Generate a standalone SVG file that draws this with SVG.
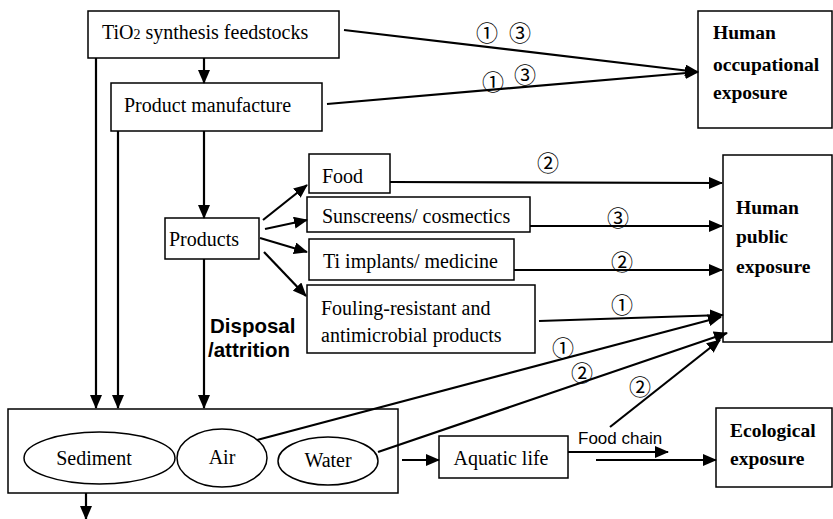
<svg xmlns="http://www.w3.org/2000/svg" width="833" height="519" viewBox="0 0 833 519">
<defs>
<marker id="ah" markerUnits="userSpaceOnUse" markerWidth="14" markerHeight="12" refX="13" refY="6" orient="auto">
<path d="M0,0 L14,6 L0,12 Z" fill="#000"/>
</marker>
<style>
.box{fill:#fff;stroke:#000;stroke-width:1.5}
.ell{fill:#fff;stroke:#000;stroke-width:1.5}
.t{font-family:"Liberation Serif","Times New Roman",serif;font-size:20px;fill:#000}
.b{font-family:"Liberation Serif","Times New Roman",serif;font-size:19.5px;font-weight:bold;fill:#000}
.s{font-family:"Liberation Sans",Arial,sans-serif;fill:#000}
.c{font-family:"Noto Sans CJK SC","DejaVu Sans",sans-serif;font-size:22px;fill:#000;text-anchor:middle}
.ln{fill:none;stroke:#000;stroke-width:2.2}
.ar{fill:none;stroke:#000;stroke-width:2.2;marker-end:url(#ah)}
</style>
</defs>
<rect width="833" height="519" fill="#fff"/>

<g id="n-feedstocks">
<rect class="box" x="88" y="11" width="251" height="47"/>
<text class="t" x="102" y="39">TiO<tspan font-size="14">2</tspan> synthesis feedstocks</text>
</g>
<g id="n-manufacture">
<rect class="box" x="111" y="83" width="211" height="48"/>
<text class="t" x="124" y="112">Product manufacture</text>
</g>
<g id="n-products">
<rect class="box" x="165" y="218" width="94" height="41"/>
<text class="t" x="169" y="246">Products</text>
</g>
<g id="n-food">
<rect class="box" x="309" y="154" width="81" height="39"/>
<text class="t" x="322" y="183">Food</text>
</g>
<g id="n-sunscreens">
<rect class="box" x="307" y="197" width="223" height="35"/>
<text class="t" x="322" y="223">Sunscreens/ cosmectics</text>
</g>
<g id="n-implants">
<rect class="box" x="309" y="239" width="205" height="41"/>
<text class="t" x="323" y="268">Ti implants/ medicine</text>
</g>
<g id="n-fouling">
<rect class="box" x="307" y="285" width="228" height="68"/>
<text class="t" x="321" y="315">Fouling-resistant and</text>
<text class="t" x="321" y="342">antimicrobial products</text>
</g>
<g id="n-occupational">
<rect class="box" x="698" y="11" width="134" height="117"/>
<text class="b" x="713" y="39">Human</text>
<text class="b" x="713" y="71">occupational</text>
<text class="b" x="713" y="99">exposure</text>
</g>
<g id="n-public">
<rect class="box" x="723" y="155" width="109" height="187"/>
<text class="b" x="736" y="214">Human</text>
<text class="b" x="736" y="243">public</text>
<text class="b" x="736" y="273">exposure</text>
</g>
<g id="n-environment">
<rect class="box" x="8" y="409" width="390" height="84"/>
</g>
<g id="n-sediment">
<ellipse class="ell" cx="99.5" cy="458" rx="75.5" ry="26"/>
<text class="t" x="94" y="465" text-anchor="middle">Sediment</text>
</g>
<g id="n-air">
<ellipse class="ell" cx="222" cy="458" rx="45" ry="29"/>
<text class="t" x="222" y="464" text-anchor="middle">Air</text>
</g>
<g id="n-water">
<ellipse class="ell" cx="328" cy="461" rx="50" ry="24"/>
<text class="t" x="328" y="467" text-anchor="middle">Water</text>
</g>
<g id="n-aquatic">
<rect class="box" x="439" y="436" width="129" height="42"/>
<text class="t" x="501" y="465" text-anchor="middle">Aquatic life</text>
</g>
<g id="n-ecological">
<rect class="box" x="716" y="408" width="116" height="79"/>
<text class="b" x="730" y="437">Ecological</text>
<text class="b" x="730" y="465">exposure</text>
</g>

<g id="connectors">
<line class="ar" x1="204" y1="58" x2="204" y2="83"/>
<line class="ar" x1="96" y1="58" x2="96" y2="408"/>
<line class="ar" x1="118" y1="131" x2="118" y2="408"/>
<line class="ar" x1="204" y1="131" x2="204" y2="218"/>
<line class="ar" x1="204" y1="259" x2="204" y2="408"/>
<line class="ar" x1="263" y1="220" x2="307" y2="185"/>
<line class="ar" x1="265" y1="229" x2="307" y2="220"/>
<line class="ar" x1="260" y1="238" x2="307" y2="252"/>
<line class="ar" x1="264" y1="252" x2="306" y2="296"/>
<line class="ar" x1="344" y1="30" x2="698" y2="72"/>
<line class="ar" x1="327" y1="104" x2="698" y2="72"/>
<line class="ar" x1="390" y1="182" x2="722" y2="183"/>
<line class="ar" x1="530" y1="226" x2="722" y2="226"/>
<line class="ar" x1="514" y1="270" x2="722" y2="270"/>
<line class="ar" x1="539" y1="321" x2="723" y2="315"/>
<line class="ar" x1="257" y1="440" x2="721" y2="317"/>
<line class="ar" x1="378" y1="452" x2="727" y2="333"/>
<line class="ar" x1="610" y1="427" x2="720" y2="340"/>
<line class="ar" x1="402" y1="460" x2="439" y2="460"/>
<line class="ar" x1="568" y1="452" x2="668" y2="452"/>
<line class="ar" x1="596" y1="460" x2="716" y2="460"/>
<line class="ar" x1="86" y1="493" x2="86" y2="519"/>
</g>

<g id="labels">
<text class="c" x="487" y="41">①</text>
<text class="c" x="520" y="41">③</text>
<text class="c" x="493" y="90">①</text>
<text class="c" x="525" y="83">③</text>
<text class="c" x="548" y="171">②</text>
<text class="c" x="618" y="226">③</text>
<text class="c" x="622" y="270">②</text>
<text class="c" x="622" y="313">①</text>
<text class="c" x="563" y="356">①</text>
<text class="c" x="582" y="381">②</text>
<text class="c" x="640" y="395">②</text>
<text class="s" x="210" y="333" font-size="20.5" font-weight="bold">Disposal</text>
<text class="s" x="208" y="357" font-size="20.5" font-weight="bold">/attrition</text>
<text class="s" x="578" y="444" font-size="17">Food chain</text>
</g>
</svg>
